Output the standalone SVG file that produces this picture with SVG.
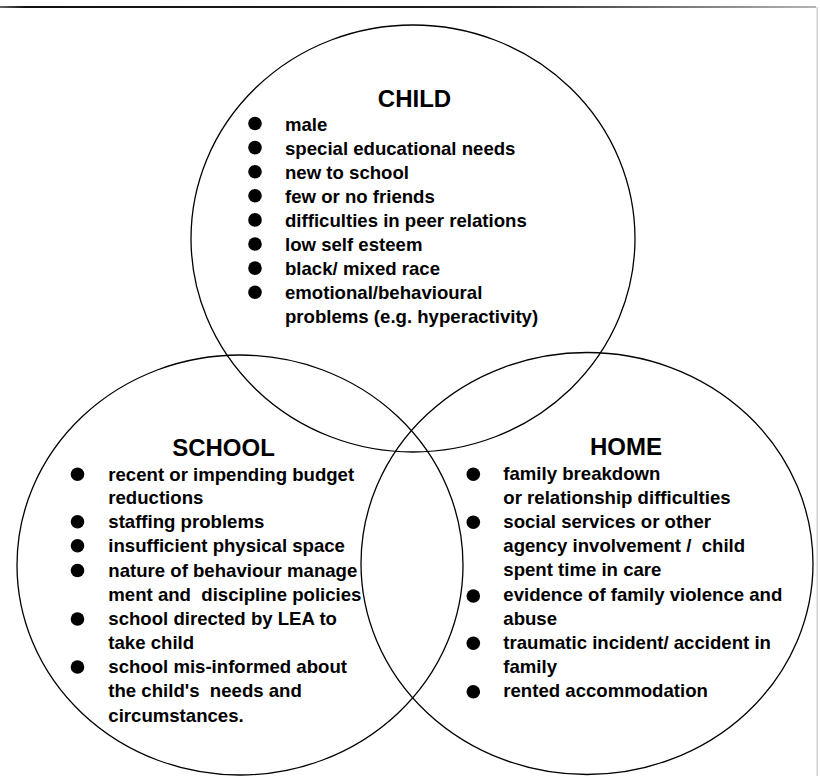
<svg xmlns="http://www.w3.org/2000/svg" width="820" height="776" viewBox="0 0 820 776">
<style>
  .ring { fill: none; stroke: #000; stroke-width: 1.3; }
  .title { font-family: "Liberation Sans", Arial, sans-serif; font-weight: bold; font-size: 24px; fill: #000; text-anchor: middle; }
  .item { font-family: "Liberation Sans", Arial, sans-serif; font-weight: bold; font-size: 18.6px; fill: #000; white-space: pre; }
  .dot { fill: #000; }
</style>
<defs>
  <linearGradient id="rule" x1="0" y1="0" x2="1" y2="0">
    <stop offset="0" stop-color="#666"/>
    <stop offset="0.03" stop-color="#111"/>
    <stop offset="0.6" stop-color="#222"/>
    <stop offset="1" stop-color="#b5b5b5"/>
  </linearGradient>
</defs>
<rect x="0" y="0" width="820" height="776" fill="#fff"/>
<g id="frame">
  <rect x="0" y="6" width="816" height="2" fill="url(#rule)"/>
  <rect x="816.5" y="7" width="1.5" height="769" fill="#cfcfcf"/>
</g>
<g id="connectors"></g>
<g id="child">
  <ellipse class="ring" cx="413" cy="238.5" rx="222" ry="213.5"/>
  <text class="title" x="414.5" y="107">CHILD</text>
  <circle class="dot" cx="255" cy="123.5" r="6.8"/>
  <circle class="dot" cx="255" cy="147.6" r="6.8"/>
  <circle class="dot" cx="255" cy="171.7" r="6.8"/>
  <circle class="dot" cx="255" cy="195.8" r="6.8"/>
  <circle class="dot" cx="255" cy="219.9" r="6.8"/>
  <circle class="dot" cx="255" cy="244" r="6.8"/>
  <circle class="dot" cx="255" cy="268.1" r="6.8"/>
  <circle class="dot" cx="255" cy="292.2" r="6.8"/>
  <text class="item" x="285" y="130.5">male</text>
  <text class="item" x="285" y="154.6">special educational needs</text>
  <text class="item" x="285" y="178.7">new to school</text>
  <text class="item" x="285" y="202.8">few or no friends</text>
  <text class="item" x="285" y="226.9">difficulties in peer relations</text>
  <text class="item" x="285" y="251">low self esteem</text>
  <text class="item" x="285" y="275.1">black/ mixed race</text>
  <text class="item" x="285" y="299.2">emotional/behavioural</text>
  <text class="item" x="285" y="323.3">problems (e.g. hyperactivity)</text>
</g>
<g id="school">
  <ellipse class="ring" cx="240" cy="565" rx="223" ry="210"/>
  <text class="title" x="223.5" y="456">SCHOOL</text>
  <circle class="dot" cx="77.5" cy="474.3" r="6.8"/>
  <circle class="dot" cx="77.5" cy="521.7" r="6.8"/>
  <circle class="dot" cx="77.5" cy="545.7" r="6.8"/>
  <circle class="dot" cx="77.5" cy="570.5" r="6.8"/>
  <circle class="dot" cx="77.5" cy="619" r="6.8"/>
  <circle class="dot" cx="77.5" cy="667" r="6.8"/>
  <text class="item" x="108.3" y="480.5">recent or impending budget</text>
  <text class="item" x="108.3" y="504">reductions</text>
  <text class="item" x="108.3" y="528">staffing problems</text>
  <text class="item" x="108.3" y="552">insufficient physical space</text>
  <text class="item" x="108.3" y="576.5">nature of behaviour manage</text>
  <text class="item" x="108.3" y="600.5" xml:space="preserve">ment and  discipline policies</text>
  <text class="item" x="108.3" y="625">school directed by LEA to</text>
  <text class="item" x="108.3" y="649">take child</text>
  <text class="item" x="108.3" y="673">school mis-informed about</text>
  <text class="item" x="108.3" y="697" xml:space="preserve">the child's  needs and</text>
  <text class="item" x="108.3" y="722">circumstances.</text>
</g>
<g id="home">
  <ellipse class="ring" cx="587" cy="563.5" rx="226" ry="211"/>
  <text class="title" x="626" y="455">HOME</text>
  <circle class="dot" cx="473.3" cy="474.3" r="6.8"/>
  <circle class="dot" cx="473.3" cy="522.3" r="6.8"/>
  <circle class="dot" cx="473.3" cy="596" r="6.8"/>
  <circle class="dot" cx="473.3" cy="643.3" r="6.8"/>
  <circle class="dot" cx="473.3" cy="691.7" r="6.8"/>
  <text class="item" x="503.3" y="480">family breakdown</text>
  <text class="item" x="503.3" y="504">or relationship difficulties</text>
  <text class="item" x="503.3" y="528">social services or other</text>
  <text class="item" x="503.3" y="552" xml:space="preserve">agency involvement /  child</text>
  <text class="item" x="503.3" y="576">spent time in care</text>
  <text class="item" x="503.3" y="600.5">evidence of family violence and</text>
  <text class="item" x="503.3" y="624.5">abuse</text>
  <text class="item" x="503.3" y="649">traumatic incident/ accident in</text>
  <text class="item" x="503.3" y="673">family</text>
  <text class="item" x="503.3" y="697">rented accommodation</text>
</g>
</svg>
